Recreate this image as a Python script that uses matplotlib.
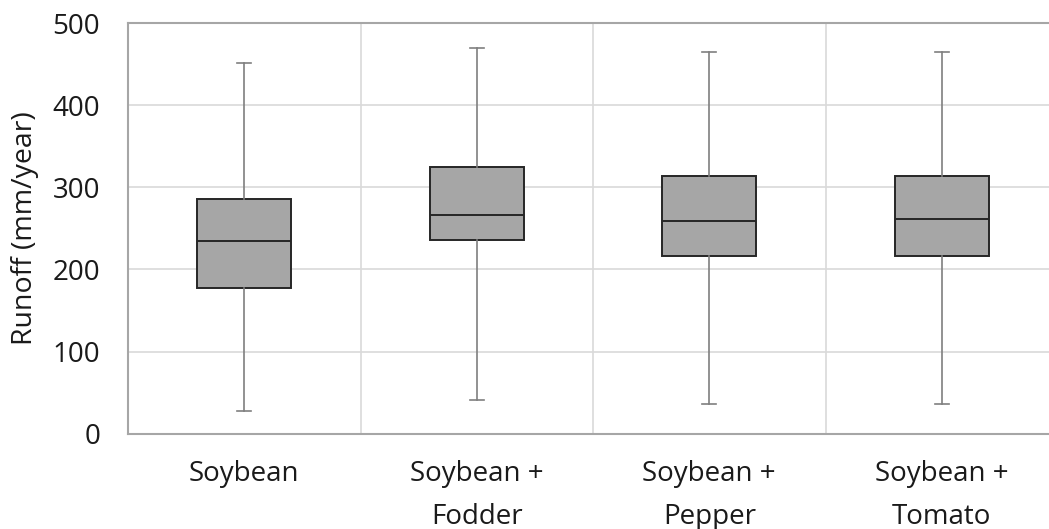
import matplotlib
matplotlib.use("Agg")
import matplotlib.pyplot as plt

plt.rcParams['font.family'] = ['Open Sans', 'DejaVu Sans']

categories = ["Soybean", "Soybean +\nFodder", "Soybean +\nPepper", "Soybean +\nTomato"]
whisker_low = [28, 41, 36, 36]
q1 = [178, 236, 216, 217]
median = [235, 266, 259, 261]
q3 = [286, 325, 314, 314]
whisker_high = [451, 470, 465, 465]
y_ticks = [0, 100, 200, 300, 400, 500]

stats = []
for lo, a, m, b, hi in zip(whisker_low, q1, median, q3, whisker_high):
    stats.append(dict(whislo=lo, q1=a, med=m, q3=b, whishi=hi, fliers=[]))

fig = plt.figure(figsize=(10.49, 5.29), dpi=100)
ax = fig.add_axes([128 / 1049, 0.1802, 930 / 1049, 0.7759])

positions = list(range(len(categories)))
ax.bxp(stats, positions=positions, widths=0.404, patch_artist=True,
       showfliers=False,
       boxprops=dict(facecolor="#a6a6a6", edgecolor="#262626", linewidth=1.4),
       medianprops=dict(color="#262626", linewidth=1.4),
       whiskerprops=dict(color="#7f7f7f", linewidth=1.2),
       capprops=dict(color="#7f7f7f", linewidth=1.2),
       capwidths=0.06)

ax.set_xlim(-0.5, len(categories) - 0.5)
ax.set_ylim(0, 500)
ax.set_yticks(y_ticks)
ax.set_xticks(positions)
ax.set_xticklabels(categories, linespacing=1.72)

# category separators and horizontal grid
ax.set_xticks([p + 0.5 for p in positions[:-1]], minor=True)
ax.grid(axis="y", which="major", color="#d9d9d9", linewidth=1.2)
ax.grid(axis="x", which="minor", color="#d9d9d9", linewidth=1.2)
ax.set_axisbelow(True)

ax.tick_params(axis="both", which="both", length=0, labelsize=20, colors="#1a1a1a")
ax.tick_params(axis="y", pad=20)
ax.tick_params(axis="x", pad=19)

for side in ["left", "bottom", "top", "right"]:
    ax.spines[side].set_color("#a6a6a6")
    ax.spines[side].set_linewidth(1.5)

ax.set_ylabel("Runoff (mm/year)", fontsize=20.5, color="#1a1a1a", labelpad=10)

fig.savefig("out.png", dpi=100)
